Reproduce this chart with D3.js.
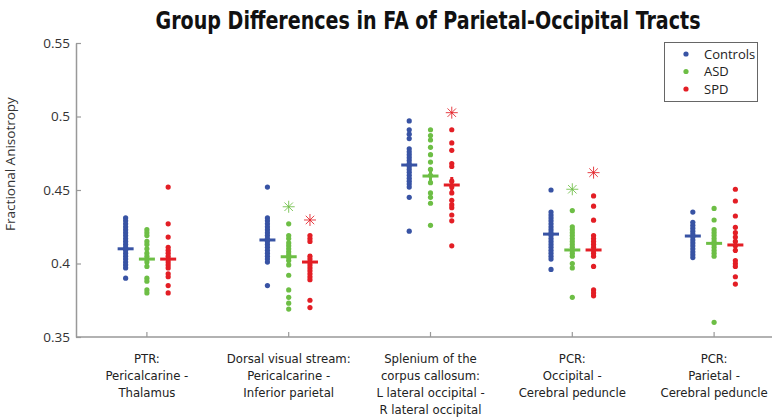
<!DOCTYPE html>
<html><head><meta charset="utf-8">
<script src="https://cdn.jsdelivr.net/npm/d3@7/dist/d3.min.js"></script>
<style>body{margin:0;background:#fff}svg{display:block}</style>
</head><body><svg id="c" width="772" height="418"></svg>
<script>
const categories = [
  ["PTR:", "Pericalcarine -", "Thalamus"],
  ["Dorsal visual stream:", "Pericalcarine -", "Inferior parietal"],
  ["Splenium of the", "corpus callosum:", "L lateral occipital -", "R lateral occipital"],
  ["PCR:", "Occipital -", "Cerebral peduncle"],
  ["PCR:", "Parietal -", "Cerebral peduncle"]
];
const seriesNames = ["Controls", "ASD", "SPD"];
const colors = ["#3853A4", "#6DBE45", "#E31E25"];
const yTicks = [0.35, 0.4, 0.45, 0.5, 0.55];

const controls = [
  [0.431,0.429,0.427,0.425,0.423,0.421,0.419,0.417,0.415,0.413,0.411,0.409,0.407,0.405,0.403,0.401,0.399,0.397,0.390],
  [0.452,0.431,0.429,0.427,0.425,0.423,0.421,0.419,0.417,0.415,0.413,0.411,0.409,0.407,0.405,0.403,0.401,0.385],
  [0.497,0.491,0.488,0.485,0.478,0.476,0.474,0.472,0.470,0.468,0.466,0.464,0.462,0.460,0.458,0.456,0.454,0.452,0.445,0.422],
  [0.450,0.435,0.433,0.431,0.429,0.427,0.425,0.423,0.421,0.419,0.417,0.415,0.413,0.411,0.409,0.407,0.405,0.403,0.396],
  [0.435,0.428,0.426,0.424,0.422,0.420,0.418,0.416,0.414,0.412,0.410,0.408,0.406,0.404]
];
const asd = [
  [0.423,0.421,0.419,0.415,0.413,0.410,0.407,0.405,0.403,0.401,0.398,0.390,0.388,0.382,0.380],
  [0.427,0.419,0.417,0.414,0.412,0.410,0.408,0.406,0.404,0.402,0.399,0.392,0.382,0.377,0.373,0.369],
  [0.491,0.487,0.484,0.479,0.474,0.469,0.464,0.460,0.455,0.448,0.445,0.441,0.426],
  [0.436,0.425,0.423,0.421,0.419,0.417,0.415,0.413,0.411,0.409,0.407,0.405,0.400,0.397,0.377],
  [0.4375,0.4296,0.423,0.421,0.419,0.417,0.415,0.413,0.411,0.409,0.407,0.405,0.360]
];
const spd = [
  [0.452,0.427,0.418,0.411,0.409,0.407,0.405,0.403,0.401,0.399,0.397,0.393,0.391,0.385,0.380],
  [0.419,0.417,0.415,0.405,0.403,0.401,0.399,0.397,0.395,0.393,0.391,0.389,0.375,0.370],
  [0.491,0.482,0.477,0.468,0.466,0.456,0.452,0.448,0.443,0.440,0.438,0.433,0.429,0.412],
  [0.446,0.439,0.4295,0.419,0.417,0.415,0.413,0.411,0.409,0.407,0.405,0.398,0.382,0.380,0.378],
  [0.4505,0.4425,0.4323,0.4246,0.421,0.418,0.415,0.412,0.409,0.402,0.400,0.398,0.391,0.386]
];
const meanControls = [0.410, 0.416, 0.467, 0.420, 0.4187];
const meanAsd      = [0.403, 0.4046, 0.4595, 0.4092, 0.4137];
const meanSpd      = [0.403, 0.401, 0.4534, 0.4092, 0.4126];
const starAsd = [null, 0.4386, null, 0.4505, null];
const starSpd = [null, 0.4296, 0.5026, 0.4618, null];

const allSeries = [controls, asd, spd];
const allMeans = [meanControls, meanAsd, meanSpd];
const allStars = [null, starAsd, starSpd];
const offsets = [-0.15, 0, 0.15];

const svg = d3.select("#c");
const x = d3.scaleLinear().domain([0.5, 5.5]).range([76, 785]);
const y = d3.scaleLinear().domain([0.35, 0.55]).range([337, 43]);
const axisColor = "#999";
const font = "'Open Sans', 'Liberation Sans', sans-serif";
const condFont = "'DejaVu Sans Condensed', 'Liberation Sans', sans-serif";

// Title
svg.append("text").attr("x", 428).attr("y", 29).attr("text-anchor", "middle")
  .attr("font-family", condFont).attr("font-weight", "bold").attr("font-size", 24)
  .attr("fill", "#111").attr("textLength", 545).attr("lengthAdjust", "spacingAndGlyphs")
  .text("Group Differences in FA of Parietal-Occipital Tracts");

// Y axis
const yAxis = d3.axisLeft(y).tickValues(yTicks).tickSizeInner(-5).tickSizeOuter(0).tickPadding(6)
  .tickFormat(d => d3.format("")(+d.toFixed(2)));
const gy = svg.append("g").attr("transform", "translate(76,0)").call(yAxis);
gy.select(".domain").attr("stroke", axisColor).attr("stroke-width", 1.5);
gy.selectAll(".tick line").attr("stroke", axisColor).attr("stroke-width", 1.2);
gy.selectAll(".tick text").attr("font-family", font).attr("font-size", 13.5).attr("fill", "#333");

// X axis
svg.append("line").attr("x1", 76).attr("x2", 772).attr("y1", y(0.35)).attr("y2", y(0.35))
  .attr("stroke", axisColor).attr("stroke-width", 1.5);
const gx = svg.append("g");
categories.forEach((lines, i) => {
  const cx = x(i + 1);
  gx.append("line").attr("x1", cx).attr("x2", cx).attr("y1", y(0.35)).attr("y2", y(0.35) - 5)
    .attr("stroke", axisColor).attr("stroke-width", 1.2);
  const t = gx.append("text").attr("text-anchor", "middle").attr("font-family", condFont)
    .attr("font-size", 13).attr("fill", "#222");
  lines.forEach((l, j) => t.append("tspan").attr("x", cx).attr("y", 363 + 17 * j).text(l));
});

// Y label
svg.append("text").attr("transform", "translate(15,164) rotate(-90)").attr("text-anchor", "middle")
  .attr("font-family", font).attr("font-size", 13.5).attr("fill", "#333").text("Fractional Anisotropy");

// Dots, means, stars
allSeries.forEach((series, s) => {
  const g = svg.append("g");
  series.forEach((vals, i) => {
    const cx = x(i + 1 + offsets[s]);
    g.selectAll(null).data(vals).enter().append("circle")
      .attr("cx", cx).attr("cy", d => y(d)).attr("r", 2.6).attr("fill", colors[s]);
    const m = y(allMeans[s][i]);
    g.append("line").attr("x1", cx - 8).attr("x2", cx + 8).attr("y1", m).attr("y2", m)
      .attr("stroke", colors[s]).attr("stroke-width", 3);
    g.append("line").attr("x1", cx).attr("x2", cx).attr("y1", m - 8).attr("y2", m + 8)
      .attr("stroke", colors[s]).attr("stroke-width", 3);
    const st = allStars[s] ? allStars[s][i] : null;
    if (st != null) {
      const sy = y(st), r = 6;
      for (let k = 0; k < 4; k++) {
        const a = k * Math.PI / 4;
        g.append("line").attr("x1", cx - r * Math.cos(a)).attr("x2", cx + r * Math.cos(a))
          .attr("y1", sy - r * Math.sin(a)).attr("y2", sy + r * Math.sin(a))
          .attr("stroke", colors[s]).attr("stroke-width", 1).attr("opacity", 0.85);
      }
    }
  });
});

// Legend
const lg = svg.append("g");
lg.append("rect").attr("x", 664.5).attr("y", 42.5).attr("width", 93).attr("height", 59)
  .attr("fill", "#fff").attr("stroke", "#666").attr("stroke-width", 1);
seriesNames.forEach((n, i) => {
  const ly = 54 + 17.5 * i;
  lg.append("circle").attr("cx", 686).attr("cy", ly).attr("r", 2.6).attr("fill", colors[i]);
  lg.append("text").attr("x", 704).attr("y", ly + 4.5).attr("font-family", font)
    .attr("font-size", 13).attr("fill", "#222").text(n);
});
</script></body></html>
